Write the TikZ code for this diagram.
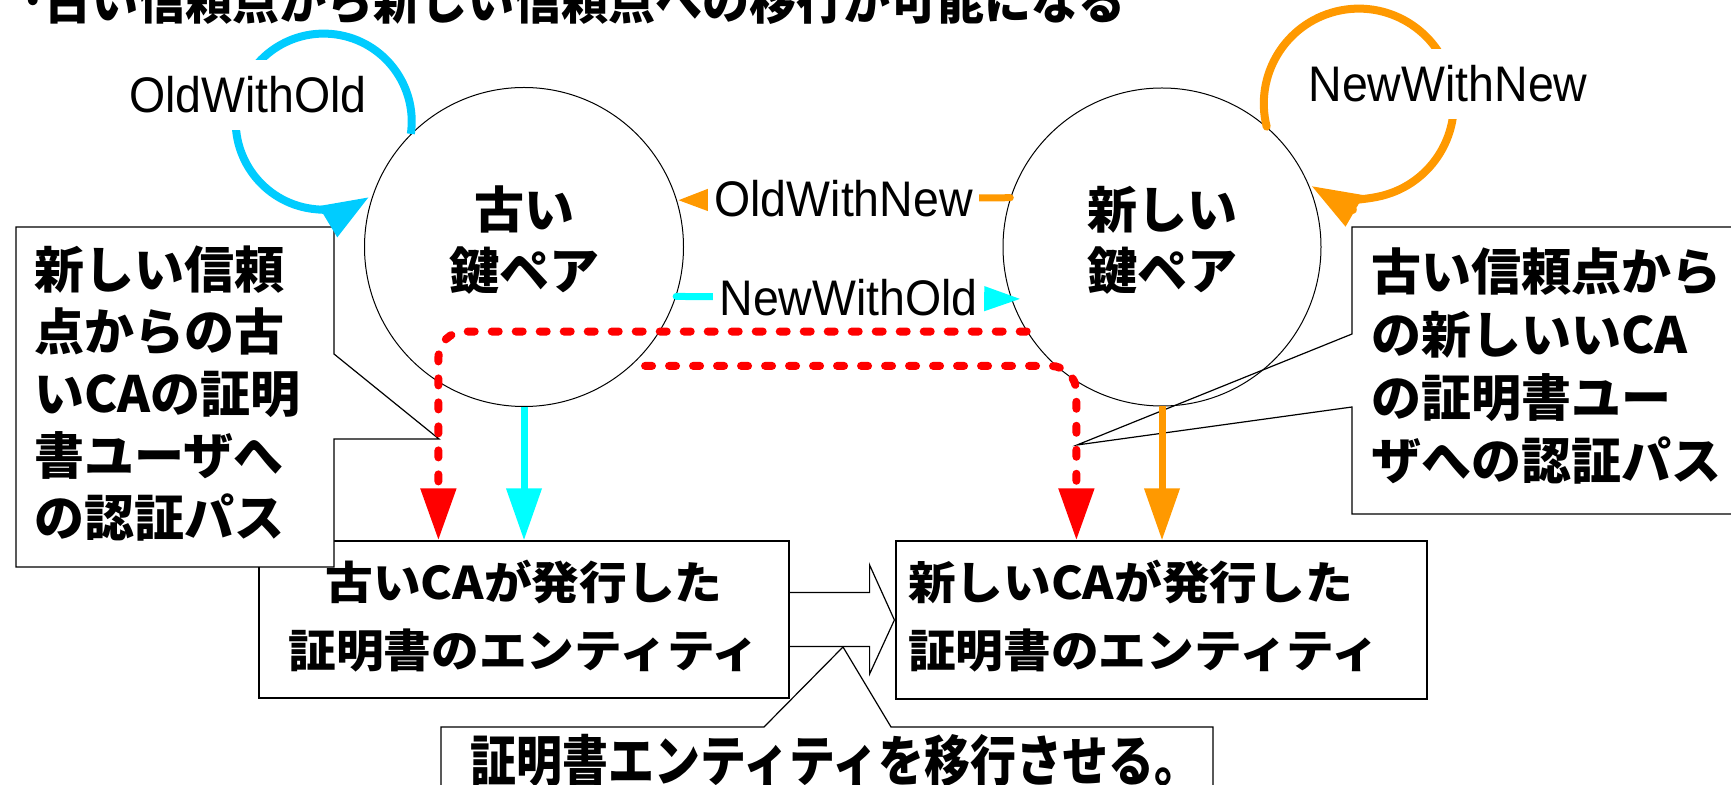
\documentclass[tikz,border=0pt]{standalone}
\usepackage{fontspec}
\usepackage{graphicx}
\setmainfont{Liberation Sans}
\newfontfamily\jpfont{Noto Sans CJK JP}
\usetikzlibrary{arrows.meta,calc}
\definecolor{loopcyan}{HTML}{00CCFF}
\definecolor{arrcyan}{HTML}{00FFFF}
\definecolor{arrorange}{HTML}{FF9900}
\definecolor{arrred}{HTML}{FF0000}
\newcommand\jblock[5]{\scalebox{#1}[1]{\jpfont\bfseries\fontsize{#2}{#3}\selectfont\begin{tabular}{@{}#4@{}}#5\end{tabular}}}
\newcommand\latinlbl[1]{\scalebox{0.93}[1]{\fontsize{25pt}{30pt}\selectfont #1}}
\begin{document}
\begin{tikzpicture}[x=0.5pt,y=-0.5pt,
  keypair/.style={circle,draw,line width=0.5pt,inner sep=0pt},
  cabox/.style={draw,line width=0.6pt,minimum width=265pt,minimum height=78.5pt,inner sep=0pt},
  callout/.style={draw,line width=0.6pt,fill=white,line join=miter},
  textblk/.style={inner sep=0pt,anchor=west},
  onlbl/.style={fill=white,text=black,inner xsep=3pt,inner ysep=2pt},
  looplbl/.style={fill=white,text=black,inner xsep=3pt,inner ysep=8.5pt},
  loopcy/.style={color=loopcyan,line width=4pt,-{Triangle[length=24pt,width=17pt]}},
  loopor/.style={color=arrorange,line width=4pt,line cap=round,-{Triangle[length=25pt,width=17pt]}},
  hor/.style={line width=3.5pt,line cap=round},
  vert/.style={line width=3.5pt,-{Triangle[length=26pt,width=17pt]}},
  reddot/.style={color=arrred,line width=4pt,line cap=round,dash pattern=on 3.5pt off 8.5pt,rounded corners=13pt,-{Triangle[length=26pt,width=17pt]}},
  blockarrow/.style={draw,line width=0.6pt,line join=miter}]
\useasboundingbox (0,0) rectangle (1731,785);

% title (cut at the top)
\node[anchor=base west,inner sep=0pt] (title) at (21,19.5) {\scalebox{0.94}[1]{\jpfont\bfseries\fontsize{25pt}{30pt}\selectfont ･古い信頼点から新しい信頼点への移行が可能になる}};

% CA boxes
\node[cabox] (oldca) at (524,619.5) {\jblock{1.06}{22.5pt}{34pt}{c}{古いCAが発行した\\証明書のエンティティ}};
\node[cabox,minimum width=265.5pt,minimum height=79pt,text width=253.5pt,inner xsep=6pt,align=left] (newca) at (1161.5,620) {\jblock{1.06}{22.5pt}{34pt}{l}{新しいCAが発行した\\証明書のエンティティ}};

% hollow block arrow between the boxes
\draw[blockarrow] ($(oldca.east)+(0,-27)$) -- ++(80,0) -- ++(0,-27.5) -- ($(newca.west)+(-1,0)$) -- ($(oldca.east)+(80,54.5)$) -- ++(0,-27.5) -- ++(-80,0);

% callouts
\draw[callout] (16,227) -- (334,227) -- (334,354) -- (439,439) -- (334,439) -- (334,567) -- (16,567) -- cycle;
\node[textblk] (lcall) at (34,400) {\jblock{1}{25pt}{31pt}{l}{新しい信頼\\点からの古\\いCAの証明\\書ユーザへ\\の認証パス}};

\draw[callout] (1745,227) -- (1352,227) -- (1352,334) -- (1077,445) -- (1352,407) -- (1352,514) -- (1745,514) -- cycle;
\node[textblk] (rcall) at (1371,372) {\jblock{1}{25pt}{31.5pt}{l}{古い信頼点から\\の新しいいCA\\の証明書ユー\\ザへの認証パス}};

\draw[callout] (441,727) -- (764,727) -- (843,647) -- (891,727) -- (1213,727) -- (1213,800) -- (441,800) -- cycle;
\node[inner sep=0pt] (bcall) at (835.5,768) {\jblock{0.835}{27.5pt}{33pt}{c}{証明書エンティティを移行させる。}};

% key pairs
\node[keypair,minimum size=159.5pt] (old) at (524,247) {\jblock{1}{25pt}{30.5pt}{c}{古い\\鍵ペア}};
\node[keypair,minimum size=159pt] (new) at (1162,247) {\jblock{1}{25pt}{30.5pt}{c}{新しい\\鍵ペア}};

% self loops
\draw[loopcy] (old.135) arc[start angle=-8,end angle=301,radius=44pt];
\node[looplbl] (owo) at (248,95) {\latinlbl{OldWithOld}};
\draw[loopor] (new.49) arc[start angle=194,end angle=-120,radius=47.5pt];
\node[looplbl] (nwn) at (1448,84) {\latinlbl{NewWithNew}};

% cross arrows
\draw[hor,color=arrorange,-{Triangle[length=15.5pt,width=10pt]}] (new.162) -- node[onlbl] (own) {\latinlbl{OldWithNew}} (old.17.6);
\draw[hor,color=arrcyan,-{Triangle[length=18.5pt,width=11.5pt]}] (old.-18.6) -- node[onlbl] (nwo) {\latinlbl{NewWithOld}} ($(new.-161.3)+(10,0)$);

% certification paths
\draw[reddot] (new.212) -| ($(oldca.north west)+(180,0)$);
\draw[reddot] ($(old.-48.8)+(14,0)$) -| ($(newca.north west)+(181,0)$);
\draw[vert,color=arrcyan] (old.south) -- (old.south |- oldca.north);
\draw[vert,color=arrorange] (new.south) -- (new.south |- newca.north);
\end{tikzpicture}
\end{document}
